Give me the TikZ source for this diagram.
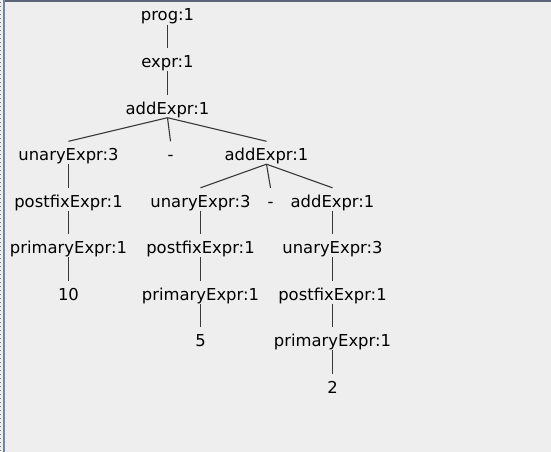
\documentclass[tikz,border=0pt]{standalone}
\usepackage{fontspec}
\setmainfont{DejaVu Sans}
\definecolor{panelgray}{HTML}{EEEEEE}
\definecolor{framebar}{HTML}{5C6678}
\definecolor{sidebar}{HTML}{7184A0}
\definecolor{branch}{HTML}{383838}
\def\treefont{\fontsize{16.4}{18}\selectfont}

\begin{document}
\begin{tikzpicture}[
	x=1pt, y=-1pt,
	tn/.style={inner sep=0pt, anchor=base, text height=19pt, text depth=3.5pt, font=\treefont},
	br/.style={draw=branch, line width=1.1pt}
	]
	  \useasboundingbox (0,0) rectangle (551,452);
	  \fill[panelgray] (0,0) rectangle (551,452);
	  % window frame
	  \fill[framebar] (3,0) rectangle (551,2.5);
	  \fill[sidebar] (3,0) rectangle (5.2,452);
	  \foreach \d in {2,6,...,450}
	    \fill[gray] (0,\d) rectangle (1.3,\d+1.3);
	  % tree
	  \node[tn] (prog) at (167.5,21) {prog:1};
	  \node[tn] (expr) at (167.5,67.5) {expr:1};
	  \node[tn] (addA) at (167.5,114) {addExpr:1};
	  \node[tn] (unA) at (68.5,160.5) {unaryExpr:3};
	  \node[tn] (minA) at (170.5,160.5) {-};
	  \node[tn] (addB) at (266.5,160.5) {addExpr:1};
	  \node[tn] (pfA) at (68.5,207) {postfixExpr:1};
	  \node[tn] (unB) at (200.5,207) {unaryExpr:3};
	  \node[tn] (minB) at (270.5,207) {-};
	  \node[tn] (addC) at (332.5,207) {addExpr:1};
	  \node[tn] (prA) at (68.5,253.5) {primaryExpr:1};
	  \node[tn] (pfB) at (200.5,253.5) {postfixExpr:1};
	  \node[tn] (unC) at (332.5,253.5) {unaryExpr:3};
	  \node[tn] (ten) at (68.5,300) {10};
	  \node[tn] (prB) at (200.5,300) {primaryExpr:1};
	  \node[tn] (pfC) at (332.5,300) {postfixExpr:1};
	  \node[tn] (five) at (200.5,346.5) {5};
	  \node[tn] (prC) at (332.5,346.5) {primaryExpr:1};
	  \node[tn] (two) at (332.5,393) {2};
	  \foreach \p/\c in {prog/expr, expr/addA, addA/unA, addA/minA, addA/addB,
	      unA/pfA, pfA/prA, prA/ten, addB/unB, addB/minB, addB/addC,
	      unB/pfB, pfB/prB, prB/five, addC/unC, unC/pfC, pfC/prC, prC/two}
	    \draw[br] (\p.south) -- (\c.north);
    \end{tikzpicture}
\end{document}
